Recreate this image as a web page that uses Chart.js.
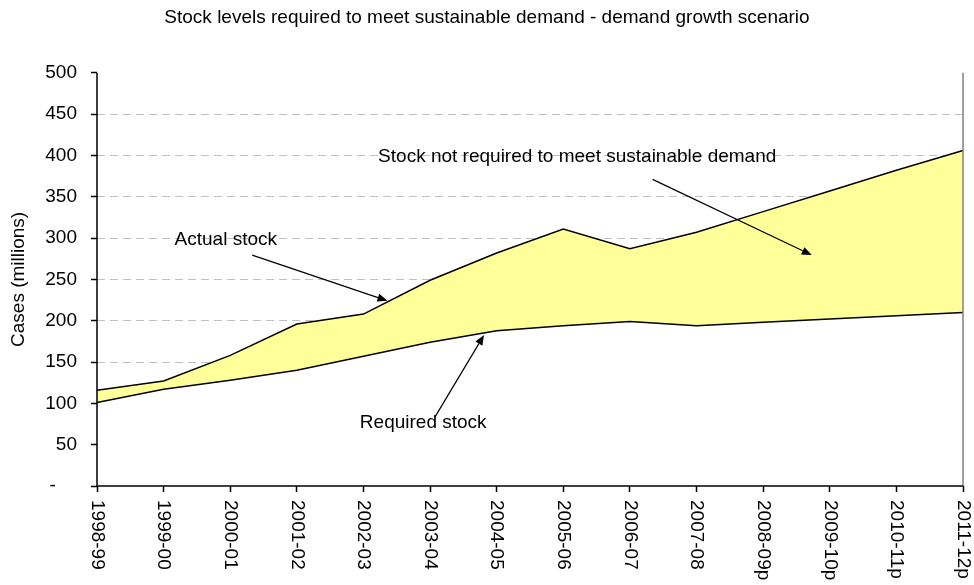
<!DOCTYPE html>
<html>
<head>
<meta charset="utf-8">
<script src="https://cdn.jsdelivr.net/npm/chart.js@4.4.0/dist/chart.umd.min.js"></script>
<style>
html,body{margin:0;padding:0;background:#ffffff;}
canvas{display:block;}
</style>
</head>
<body>
<canvas id="c" width="974" height="585"></canvas>
<script>
// ---- data ----
const categories = ['1998-99','1999-00','2000-01','2001-02','2002-03','2003-04','2004-05','2005-06','2006-07','2007-08','2008-09p','2009-10p','2010-11p','2011-12p'];
const actualStock = [116,127,158,196,208,249,282,311,287,307,332,357,382,406];
const requiredStock = [101,117,128,140,157,174,188,194,199,194,198,202,206,210];
const titleText = 'Stock levels required to meet sustainable demand - demand growth scenario';
const yAxisTitle = 'Cases (millions)';
const annotationTexts = ['Actual stock', 'Stock not required to meet sustainable demand', 'Required stock'];

// ---- annotation placement (in category index / value units) ----
const annotationLayout = [
  {text: 0, tx: 1.933, ty: 297.6, align: 'center', ax0: 2.33, ay0: 279.4, ax1: 4.36, ay1: 224.1},
  {text: 1, tx: 4.22,  ty: 398.6, align: 'left',   ax0: 8.34, ay0: 371.0, ax1: 10.73, ay1: 279.4},
  {text: 2, tx: 4.897, ty: 76.2,  align: 'center', ax0: 5.07, ay0: 83.1,  ax1: 5.81, ay1: 182.7}
];

const FONT = "'Liberation Sans', Arial, Helvetica, sans-serif";
const FS = 19;

function pxX(scale, idx) {
  const i0 = Math.floor(idx), f = idx - i0;
  const p0 = scale.getPixelForTick(Math.min(i0, categories.length - 1));
  const p1 = scale.getPixelForTick(Math.min(i0 + 1, categories.length - 1));
  return p0 + (p1 - p0) * f;
}

const overlay = {
  id: 'overlay',
  afterDatasetsDraw(chart) {
    const {ctx, chartArea: a} = chart;
    ctx.save();
    // right plot border (gray)
    ctx.strokeStyle = '#808080';
    ctx.lineWidth = 1.5;
    ctx.beginPath();
    ctx.moveTo(a.right, a.top);
    ctx.lineTo(a.right, a.bottom);
    ctx.stroke();
    // axis lines
    ctx.strokeStyle = '#000000';
    ctx.lineWidth = 1.5;
    ctx.beginPath();
    ctx.moveTo(a.left, a.top);
    ctx.lineTo(a.left, a.bottom);
    ctx.lineTo(a.right, a.bottom);
    ctx.stroke();
    ctx.restore();
  },
  afterDraw(chart) {
    const {ctx, chartArea: a, scales: {x, y}} = chart;
    ctx.save();
    ctx.fillStyle = '#000000';
    ctx.font = FS + 'px ' + FONT;
    // rotated category labels (reading top to bottom)
    ctx.textAlign = 'left';
    ctx.textBaseline = 'middle';
    categories.forEach((lab, i) => {
      const px = x.getPixelForTick(i);
      ctx.save();
      ctx.translate(px, a.bottom + 14);
      ctx.rotate(Math.PI / 2);
      ctx.fillText(lab, 0, 0);
      ctx.restore();
    });
    // annotations
    annotationLayout.forEach(an => {
      const tx = pxX(x, an.tx), ty = y.getPixelForValue(an.ty);
      ctx.textAlign = an.align;
      ctx.textBaseline = 'middle';
      ctx.fillText(annotationTexts[an.text], tx, ty);
      const x0 = pxX(x, an.ax0), y0 = y.getPixelForValue(an.ay0);
      const x1 = pxX(x, an.ax1), y1 = y.getPixelForValue(an.ay1);
      const ang = Math.atan2(y1 - y0, x1 - x0);
      const L = 10, W = 4;
      const bx = x1 - L * Math.cos(ang), by = y1 - L * Math.sin(ang);
      ctx.strokeStyle = '#000000';
      ctx.lineWidth = 1.2;
      ctx.beginPath();
      ctx.moveTo(x0, y0);
      ctx.lineTo(bx, by);
      ctx.stroke();
      ctx.beginPath();
      ctx.moveTo(x1, y1);
      ctx.lineTo(bx + W * Math.sin(ang), by - W * Math.cos(ang));
      ctx.lineTo(bx - W * Math.sin(ang), by + W * Math.cos(ang));
      ctx.closePath();
      ctx.fill();
    });
    ctx.restore();
  }
};

new Chart(document.getElementById('c'), {
  type: 'line',
  data: {
    labels: categories,
    datasets: [
      {
        label: 'Required stock',
        data: requiredStock,
        borderColor: '#000000',
        borderWidth: 1.5,
        backgroundColor: '#ffffff',
        fill: 'origin',
        pointRadius: 0,
        tension: 0
      },
      {
        label: 'Actual stock',
        data: actualStock,
        borderColor: '#000000',
        borderWidth: 1.5,
        backgroundColor: '#FFFF99',
        fill: '-1',
        pointRadius: 0,
        tension: 0
      }
    ]
  },
  options: {
    responsive: false,
    animation: false,
    devicePixelRatio: 1,
    layout: {padding: {left: 0, right: 0, top: 0, bottom: 0}},
    plugins: {
      legend: {display: false},
      tooltip: {enabled: false},
      title: {
        display: true,
        text: titleText,
        color: '#000000',
        font: {family: FONT, size: FS, weight: 'normal'},
        padding: {top: 6, bottom: 44}
      }
    },
    scales: {
      x: {
        type: 'category',
        offset: false,
        grid: {drawOnChartArea: false, drawTicks: true, tickLength: 6, tickColor: '#000000', tickWidth: 1.5},
        border: {display: false},
        ticks: {display: false},
        afterFit(s) { s.height = 99; }
      },
      y: {
        type: 'linear',
        position: 'left',
        min: 0,
        max: 500,
        ticks: {
          stepSize: 50,
          color: '#000000',
          font: {family: FONT, size: FS},
          padding: 14,
          callback: v => (v === 0 ? '-    ' : String(v))
        },
        grid: {
          color: c => (c.tick && (c.tick.value === 0 || c.tick.value === 500)) ? 'rgba(0,0,0,0)' : '#c0c0c0',
          lineWidth: 1,
          drawTicks: true,
          tickLength: 6,
          tickColor: '#000000',
          tickWidth: 1.5
        },
        border: {display: false, dash: [8, 5]},
        title: {
          display: true,
          text: yAxisTitle,
          color: '#000000',
          font: {family: FONT, size: FS},
          padding: {top: 7, bottom: 0}
        },
        afterFit(s) { s.width = 97; }
      },
      yR: {
        type: 'linear',
        position: 'right',
        display: true,
        grid: {display: false, drawTicks: false},
        ticks: {display: false},
        border: {display: false},
        afterFit(s) { s.width = 11; }
      }
    }
  },
  plugins: [overlay]
});
</script>
</body>
</html>
